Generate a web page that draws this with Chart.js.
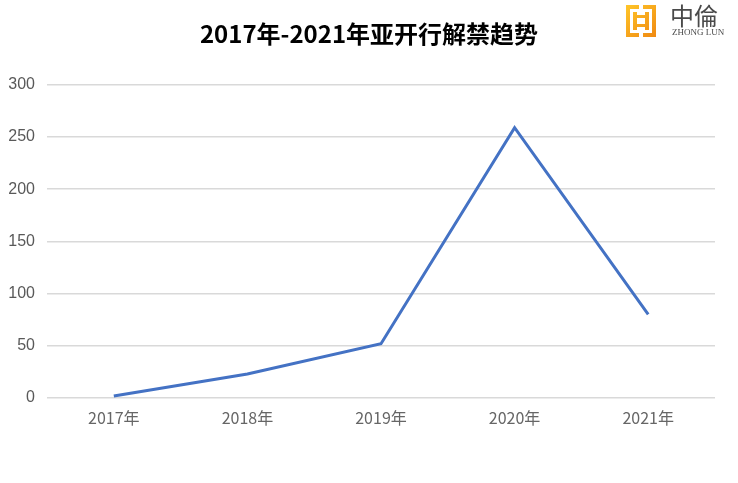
<!DOCTYPE html>
<html>
<head>
<meta charset="utf-8">
<script src="https://cdn.jsdelivr.net/npm/chart.js@4"></script>
<style>
  html, body { margin: 0; padding: 0; background: #fff; }
  #wrap { width: 738px; height: 483px; }
</style>
</head>
<body>
<div id="wrap"><canvas id="trendChart" width="738" height="483"></canvas></div>
<script>
const years = ['2017年', '2018年', '2019年', '2020年', '2021年'];
const unlockCounts = [2, 23, 52, 259, 80];
const yTicks = [0, 50, 100, 150, 200, 250, 300];

const ctx = document.getElementById('trendChart').getContext('2d');

// logo in the top right corner, title centred on the full canvas
const logoPlugin = {
  id: 'logo',
  afterLayout(chart) {
    const t = chart.titleBlock;
    if (t) { t.left = 0; t.right = chart.width; t.width = chart.width; }
  },
  afterDraw(chart) {
    const c = chart.ctx;
    c.save();
    const g = c.createLinearGradient(626, 5, 655, 37);
    g.addColorStop(0, '#ffc629');
    g.addColorStop(1, '#f08a12');
    c.fillStyle = g;
    c.fillRect(626, 5, 30, 32);
    c.fillStyle = '#fff';
    c.fillRect(630, 9, 22, 24);
    c.fillStyle = g;
    c.fillRect(633, 12, 4, 18);
    c.fillRect(645, 12, 4, 18);
    c.fillRect(637, 15, 8, 3);
    c.fillRect(637, 24, 8, 3);
    c.fillStyle = '#fff';
    c.fillRect(639, 5, 4, 4);
    c.fillRect(639, 33, 4, 4);
    c.fillStyle = '#4a4a4a';
    c.font = '24px "Noto Sans CJK SC"';
    c.textBaseline = 'middle';
    c.textAlign = 'left';
    c.fillText('中倫', 670, 16);
    c.font = '9px "Liberation Serif"';
    c.fillText('ZHONG LUN', 672, 33);
    c.restore();
  }
};

new Chart(ctx, {
  type: 'line',
  data: {
    labels: years,
    datasets: [{
      data: unlockCounts,
      borderColor: '#4472c4',
      borderWidth: 3,
      pointRadius: 0,
      tension: 0,
      fill: false
    }]
  },
  options: {
    responsive: false,
    animation: false,
    layout: { padding: { top: 0, right: 23, bottom: 0, left: 0 } },
    plugins: {
      legend: { display: false },
      tooltip: { enabled: false },
      title: {
        display: true,
        text: '2017年-2021年亚开行解禁趋势',
        color: '#000',
        font: { family: '"Noto Sans CJK SC"', size: 24, weight: 'bold' },
        padding: { top: 19, bottom: 37 }
      }
    },
    scales: {
      x: {
        offset: true,
        grid: { display: false },
        border: { display: false },
        ticks: {
          color: '#666',
          font: { family: '"Noto Sans CJK SC"', size: 16 },
          padding: 2
        },
        afterFit(axis) { axis.height = 85; }
      },
      y: {
        min: 0,
        max: 300,
        afterBuildTicks(axis) { axis.ticks = yTicks.map(v => ({ value: v })); },
        grid: { color: '#d9d9d9', lineWidth: 1.5, drawTicks: false },
        border: { display: false },
        ticks: {
          color: '#595959',
          font: { family: '"Liberation Sans"', size: 16 },
          padding: 12
        },
        afterFit(axis) { axis.width = 47; }
      }
    }
  },
  plugins: [logoPlugin]
});
</script>
</body>
</html>
